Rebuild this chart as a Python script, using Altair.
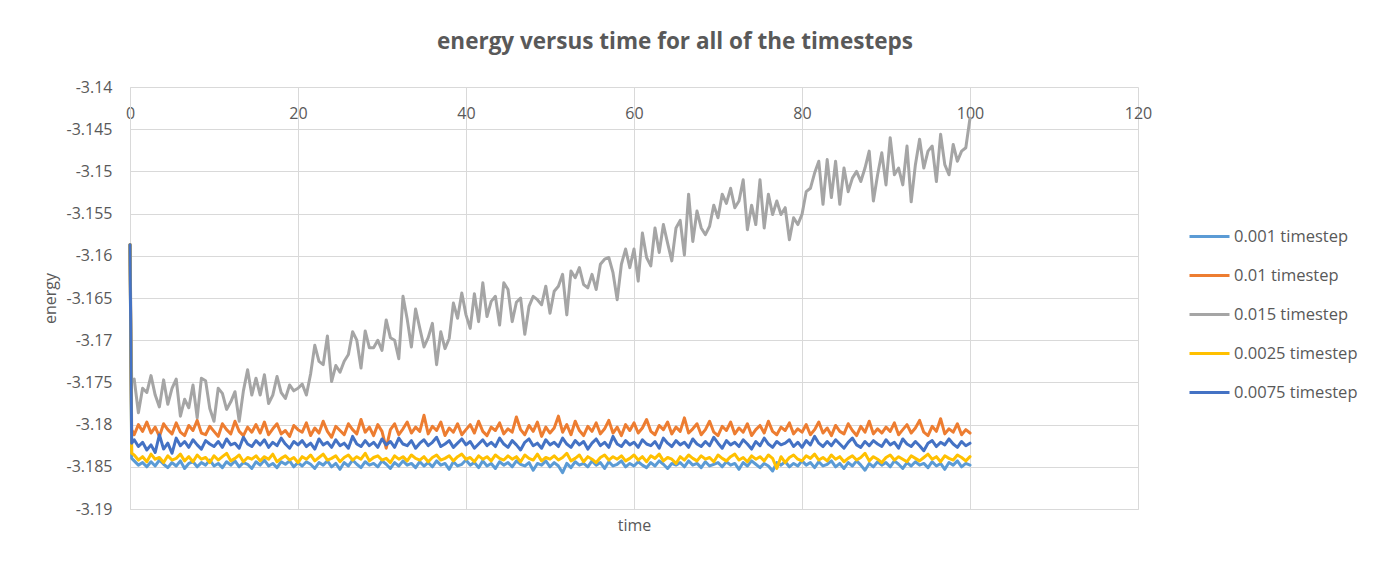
import altair as alt
import pandas as pd

series_names = ["0.001 timestep", "0.01 timestep", "0.015 timestep",
                "0.0025 timestep", "0.0075 timestep"]
series_colors = ["#5B9BD5", "#ED7D31", "#A5A5A5", "#FFC000", "#4472C4"]

x_ticks = [0, 20, 40, 60, 80, 100, 120]
y_ticks = [-3.19, -3.185, -3.18, -3.175, -3.17, -3.165, -3.16,
           -3.155, -3.15, -3.145, -3.14]

# sample times: 0, 0.2, then every 0.5 up to 100
time = [0.0, 0.2] + [0.5 * i for i in range(1, 201)]

e_0001 = [-3.1587, -3.1840,
    -3.1843, -3.1848, -3.1845, -3.1850, -3.1844, -3.1849, -3.1842, -3.1847, -3.1851, -3.1845,
    -3.1849, -3.1843, -3.1852, -3.1846, -3.1844, -3.1850, -3.1845, -3.1848, -3.1842, -3.1849,
    -3.1846, -3.1851, -3.1844, -3.1848, -3.1843, -3.1850, -3.1845, -3.1847, -3.1852, -3.1844,
    -3.1848, -3.1842, -3.1849, -3.1846, -3.1851, -3.1844, -3.1847, -3.1843, -3.1850, -3.1845,
    -3.1849, -3.1844, -3.1847, -3.1852, -3.1845, -3.1848, -3.1843, -3.1850, -3.1846, -3.1853,
    -3.1845, -3.1849, -3.1842, -3.1847, -3.1851, -3.1844, -3.1848, -3.1846, -3.1850, -3.1843,
    -3.1847, -3.1852, -3.1845, -3.1849, -3.1843, -3.1848, -3.1846, -3.1851, -3.1844, -3.1849,
    -3.1845, -3.1850, -3.1843, -3.1848, -3.1846, -3.1853, -3.1844, -3.1849, -3.1847, -3.1842,
    -3.1848, -3.1845, -3.1851, -3.1843, -3.1849, -3.1846, -3.1852, -3.1844, -3.1848, -3.1845,
    -3.1850, -3.1843, -3.1847, -3.1849, -3.1845, -3.1854, -3.1846, -3.1848, -3.1843, -3.1850,
    -3.1845, -3.1849, -3.1857, -3.1846, -3.1851, -3.1844, -3.1848, -3.1846, -3.1850, -3.1843,
    -3.1848, -3.1845, -3.1852, -3.1844, -3.1849, -3.1847, -3.1843, -3.1850, -3.1846, -3.1849,
    -3.1844, -3.1848, -3.1851, -3.1845, -3.1849, -3.1843, -3.1847, -3.1852, -3.1846, -3.1848,
    -3.1845, -3.1850, -3.1843, -3.1848, -3.1846, -3.1851, -3.1844, -3.1849, -3.1847, -3.1845,
    -3.1850, -3.1844, -3.1848, -3.1846, -3.1853, -3.1845, -3.1849, -3.1843, -3.1847, -3.1851,
    -3.1846, -3.1849, -3.1855, -3.1845, -3.1848, -3.1844, -3.1850, -3.1846, -3.1849, -3.1843,
    -3.1848, -3.1845, -3.1851, -3.1844, -3.1849, -3.1847, -3.1843, -3.1850, -3.1846, -3.1852,
    -3.1845, -3.1849, -3.1843, -3.1848, -3.1854, -3.1846, -3.1850, -3.1844, -3.1848, -3.1845,
    -3.1850, -3.1843, -3.1847, -3.1852, -3.1845, -3.1849, -3.1844, -3.1848, -3.1846, -3.1851,
    -3.1844, -3.1849, -3.1846, -3.1853, -3.1845, -3.1848, -3.1843, -3.1850, -3.1846, -3.1848]

e_001 = [-3.1587, -3.1806,
    -3.1812, -3.1800, -3.1808, -3.1797, -3.1810, -3.1803, -3.1814, -3.1799, -3.1806, -3.1811,
    -3.1798, -3.1809, -3.1813, -3.1801, -3.1807, -3.1795, -3.1810, -3.1812, -3.1802, -3.1808,
    -3.1814, -3.1799, -3.1806, -3.1811, -3.1796, -3.1808, -3.1813, -3.1803, -3.1809, -3.1800,
    -3.1810, -3.1797, -3.1812, -3.1805, -3.1799, -3.1811, -3.1807, -3.1814, -3.1801, -3.1806,
    -3.1809, -3.1798, -3.1813, -3.1804, -3.1810, -3.1796, -3.1808, -3.1815, -3.1802, -3.1807,
    -3.1812, -3.1799, -3.1806, -3.1811, -3.1794, -3.1809, -3.1803, -3.1813, -3.1800, -3.1808,
    -3.1828, -3.1806, -3.1799, -3.1812, -3.1805, -3.1797, -3.1810, -3.1803, -3.1808, -3.1789,
    -3.1811, -3.1802, -3.1807, -3.1797, -3.1813, -3.1804, -3.1809, -3.1799, -3.1812, -3.1806,
    -3.1800, -3.1810, -3.1796, -3.1808, -3.1813, -3.1803, -3.1807, -3.1798, -3.1811, -3.1805,
    -3.1809, -3.1791, -3.1806, -3.1812, -3.1801, -3.1808, -3.1797, -3.1814, -3.1803, -3.1810,
    -3.1804, -3.1790, -3.1809, -3.1800, -3.1812, -3.1796, -3.1807, -3.1813, -3.1802, -3.1808,
    -3.1798, -3.1811, -3.1805, -3.1795, -3.1810, -3.1803, -3.1813, -3.1800, -3.1807, -3.1798,
    -3.1810, -3.1804, -3.1794, -3.1808, -3.1812, -3.1801, -3.1806, -3.1797, -3.1811, -3.1803,
    -3.1808, -3.1792, -3.1810, -3.1805, -3.1799, -3.1812, -3.1806, -3.1796, -3.1809, -3.1813,
    -3.1802, -3.1807, -3.1797, -3.1811, -3.1804, -3.1809, -3.1799, -3.1813, -3.1806, -3.1801,
    -3.1810, -3.1796, -3.1808, -3.1812, -3.1803, -3.1807, -3.1798, -3.1811, -3.1805, -3.1809,
    -3.1800, -3.1812, -3.1806, -3.1797, -3.1810, -3.1804, -3.1813, -3.1801, -3.1808, -3.1811,
    -3.1799, -3.1807, -3.1813, -3.1802, -3.1809, -3.1796, -3.1811, -3.1805, -3.1810, -3.1803,
    -3.1808, -3.1798, -3.1812, -3.1806, -3.1800, -3.1810, -3.1804, -3.1795, -3.1809, -3.1813,
    -3.1802, -3.1808, -3.1793, -3.1811, -3.1805, -3.1809, -3.1799, -3.1812, -3.1806, -3.1810]

e_0015 = [-3.1587, -3.1750,
    -3.1746, -3.1786, -3.1757, -3.1762, -3.1742, -3.1765, -3.1779, -3.1747, -3.1776, -3.1757,
    -3.1746, -3.1790, -3.1770, -3.1780, -3.1753, -3.1792, -3.1745, -3.1748, -3.1781, -3.1796,
    -3.1757, -3.1763, -3.1782, -3.1773, -3.1761, -3.1796, -3.1760, -3.1735, -3.1765, -3.1745,
    -3.1765, -3.1741, -3.1775, -3.1765, -3.1743, -3.1762, -3.1769, -3.1753, -3.1760, -3.1757,
    -3.1752, -3.1765, -3.1740, -3.1706, -3.1725, -3.1729, -3.1695, -3.1749, -3.1730, -3.1738,
    -3.1725, -3.1717, -3.1690, -3.1700, -3.1733, -3.1689, -3.1709, -3.1709, -3.1700, -3.1712,
    -3.1676, -3.1697, -3.1700, -3.1722, -3.1648, -3.1675, -3.1708, -3.1663, -3.1686, -3.1708,
    -3.1697, -3.1680, -3.1729, -3.1690, -3.1710, -3.1698, -3.1656, -3.1674, -3.1644, -3.1670,
    -3.1686, -3.1645, -3.1678, -3.1632, -3.1672, -3.1654, -3.1648, -3.1682, -3.1632, -3.1640,
    -3.1678, -3.1655, -3.1650, -3.1693, -3.1660, -3.1648, -3.1652, -3.1658, -3.1636, -3.1668,
    -3.1642, -3.1636, -3.1622, -3.1670, -3.1618, -3.1626, -3.1614, -3.1634, -3.1638, -3.1622,
    -3.1640, -3.1610, -3.1604, -3.1602, -3.1620, -3.1652, -3.1610, -3.1592, -3.1614, -3.1592,
    -3.1630, -3.1573, -3.1602, -3.1612, -3.1567, -3.1596, -3.1563, -3.1585, -3.1606, -3.1567,
    -3.1558, -3.1599, -3.1527, -3.1583, -3.1547, -3.1567, -3.1575, -3.1565, -3.1540, -3.1555,
    -3.1527, -3.1538, -3.1520, -3.1543, -3.1535, -3.1510, -3.1569, -3.1540, -3.1563, -3.1510,
    -3.1567, -3.1527, -3.1551, -3.1535, -3.1551, -3.1543, -3.1581, -3.1555, -3.1563, -3.1551,
    -3.1524, -3.1520, -3.1502, -3.1488, -3.1539, -3.1486, -3.1531, -3.1488, -3.1539, -3.1496,
    -3.1524, -3.1508, -3.1500, -3.1512, -3.1496, -3.1476, -3.1535, -3.1504, -3.1478, -3.1516,
    -3.1460, -3.1504, -3.1496, -3.1516, -3.1470, -3.1536, -3.1492, -3.1462, -3.1496, -3.1476,
    -3.1470, -3.1512, -3.1456, -3.1492, -3.1504, -3.1468, -3.1488, -3.1476, -3.1472, -3.1437]

e_00025 = [-3.1587, -3.1834,
    -3.1836, -3.1842, -3.1838, -3.1844, -3.1835, -3.1841, -3.1839, -3.1845, -3.1837, -3.1842,
    -3.1840, -3.1835, -3.1843, -3.1838, -3.1844, -3.1836, -3.1841, -3.1839, -3.1845, -3.1837,
    -3.1842, -3.1838, -3.1834, -3.1843, -3.1840, -3.1836, -3.1844, -3.1839, -3.1841, -3.1837,
    -3.1843, -3.1838, -3.1841, -3.1835, -3.1844, -3.1840, -3.1837, -3.1842, -3.1839, -3.1845,
    -3.1838, -3.1841, -3.1836, -3.1843, -3.1839, -3.1835, -3.1842, -3.1840, -3.1837, -3.1844,
    -3.1839, -3.1836, -3.1842, -3.1838, -3.1841, -3.1834, -3.1843, -3.1839, -3.1837, -3.1842,
    -3.1840, -3.1845, -3.1837, -3.1841, -3.1838, -3.1843, -3.1836, -3.1840, -3.1842, -3.1838,
    -3.1844, -3.1839, -3.1836, -3.1842, -3.1840, -3.1837, -3.1843, -3.1838, -3.1835, -3.1841,
    -3.1839, -3.1844, -3.1837, -3.1841, -3.1838, -3.1843, -3.1836, -3.1840, -3.1842, -3.1837,
    -3.1841, -3.1838, -3.1844, -3.1836, -3.1840, -3.1842, -3.1835, -3.1843, -3.1839, -3.1841,
    -3.1837, -3.1842, -3.1839, -3.1834, -3.1843, -3.1840, -3.1836, -3.1844, -3.1838, -3.1841,
    -3.1845, -3.1839, -3.1836, -3.1842, -3.1838, -3.1841, -3.1837, -3.1843, -3.1840, -3.1836,
    -3.1842, -3.1838, -3.1844, -3.1837, -3.1840, -3.1835, -3.1843, -3.1839, -3.1841, -3.1846,
    -3.1838, -3.1842, -3.1836, -3.1840, -3.1843, -3.1837, -3.1841, -3.1839, -3.1844, -3.1836,
    -3.1840, -3.1843, -3.1838, -3.1835, -3.1842, -3.1839, -3.1844, -3.1837, -3.1841, -3.1838,
    -3.1843, -3.1836, -3.1840, -3.1852, -3.1838, -3.1845, -3.1839, -3.1836, -3.1841, -3.1843,
    -3.1837, -3.1840, -3.1835, -3.1842, -3.1839, -3.1843, -3.1836, -3.1841, -3.1838, -3.1844,
    -3.1840, -3.1837, -3.1842, -3.1839, -3.1834, -3.1843, -3.1838, -3.1841, -3.1845, -3.1839,
    -3.1836, -3.1842, -3.1838, -3.1841, -3.1844, -3.1837, -3.1840, -3.1843, -3.1839, -3.1835,
    -3.1841, -3.1838, -3.1844, -3.1837, -3.1840, -3.1842, -3.1836, -3.1839, -3.1843, -3.1838]

e_00075 = [-3.1587, -3.1822,
    -3.1818, -3.1826, -3.1821, -3.1830, -3.1824, -3.1833, -3.1812, -3.1829, -3.1822, -3.1834,
    -3.1816, -3.1825, -3.1820, -3.1827, -3.1818, -3.1824, -3.1829, -3.1819, -3.1823, -3.1826,
    -3.1820, -3.1827, -3.1817, -3.1824, -3.1822, -3.1828, -3.1815, -3.1823, -3.1826, -3.1819,
    -3.1824, -3.1818, -3.1827, -3.1821, -3.1825, -3.1816, -3.1823, -3.1828, -3.1820, -3.1824,
    -3.1819, -3.1826, -3.1822, -3.1829, -3.1817, -3.1824, -3.1821, -3.1827, -3.1818, -3.1825,
    -3.1822, -3.1828, -3.1814, -3.1823, -3.1826, -3.1819, -3.1825, -3.1821, -3.1827, -3.1817,
    -3.1824, -3.1820, -3.1827, -3.1816, -3.1823, -3.1825, -3.1819, -3.1828, -3.1822, -3.1818,
    -3.1825, -3.1821, -3.1815, -3.1826, -3.1823, -3.1819, -3.1827, -3.1822, -3.1817, -3.1824,
    -3.1820, -3.1828, -3.1823, -3.1818, -3.1825, -3.1821, -3.1826, -3.1816, -3.1823, -3.1827,
    -3.1819, -3.1824, -3.1830, -3.1821, -3.1817, -3.1825, -3.1822, -3.1828, -3.1818, -3.1824,
    -3.1821, -3.1826, -3.1816, -3.1823, -3.1827, -3.1819, -3.1824, -3.1820, -3.1829, -3.1822,
    -3.1817, -3.1825, -3.1821, -3.1827, -3.1814, -3.1823, -3.1826, -3.1819, -3.1824, -3.1821,
    -3.1827, -3.1818, -3.1823, -3.1825, -3.1820, -3.1828, -3.1816, -3.1822, -3.1826, -3.1819,
    -3.1824, -3.1821, -3.1827, -3.1817, -3.1823, -3.1826, -3.1820, -3.1825, -3.1815, -3.1822,
    -3.1828, -3.1819, -3.1824, -3.1821, -3.1826, -3.1818, -3.1823, -3.1829, -3.1820, -3.1825,
    -3.1816, -3.1823, -3.1827, -3.1820, -3.1824, -3.1822, -3.1818, -3.1826, -3.1821, -3.1827,
    -3.1819, -3.1824, -3.1814, -3.1822, -3.1826, -3.1820, -3.1825, -3.1818, -3.1823, -3.1828,
    -3.1821, -3.1816, -3.1824, -3.1827, -3.1820, -3.1825, -3.1819, -3.1823, -3.1826, -3.1818,
    -3.1824, -3.1821, -3.1828, -3.1817, -3.1823, -3.1826, -3.1820, -3.1825, -3.1831, -3.1822,
    -3.1819, -3.1826, -3.1821, -3.1824, -3.1817, -3.1823, -3.1827, -3.1820, -3.1825, -3.1822]

series_values = [e_0001, e_001, e_0015, e_00025, e_00075]

frames = []
for name, vals in zip(series_names, series_values):
    assert len(vals) == len(time), (name, len(vals), len(time))
    frames.append(pd.DataFrame({"time": time, "energy": vals, "series": name}))

FONT = "Open Sans"
TEXT = "#595959"
GRID = "#D9D9D9"

color = alt.Color(
    "series:N",
    scale=alt.Scale(domain=series_names, range=series_colors),
    legend=alt.Legend(
        title=None, orient="none", legendX=1058, legendY=128,
        symbolType="stroke", symbolSize=1600, symbolStrokeWidth=3,
        labelFont=FONT, labelFontSize=16.5, labelColor=TEXT, labelOffset=3,
        rowPadding=9, padding=0, labelLimit=300,
    ),
)

x = alt.X(
    "time:Q",
    scale=alt.Scale(domain=[0, 120], nice=False),
    axis=alt.Axis(
        values=x_ticks, title="time", orient="bottom",
        labelPadding=-391, labelBaseline="alphabetic",
        ticks=False, tickSize=0, domain=True, domainColor=GRID,
        grid=True, gridColor=GRID, titlePadding=8, labelFlush=False,
    ),
)

y = alt.Y(
    "energy:Q",
    scale=alt.Scale(domain=[-3.19, -3.14], nice=False, zero=False),
    axis=alt.Axis(
        values=y_ticks, title="energy", labelExpr="toString(datum.value)",
        labelPadding=18, ticks=False, tickSize=0, domain=True,
        domainColor=GRID, grid=True, gridColor=GRID, titlePadding=8,
    ),
)

layers = [
    alt.Chart(f).mark_line(strokeWidth=3, strokeJoin="round", strokeCap="round")
    .encode(x=x, y=y, color=color, order="time:Q")
    for f in frames
]

chart = (
    alt.layer(*layers)
    .properties(
        width=1008, height=422,
        padding={"left": 34, "top": 22, "right": 10, "bottom": 10},
        title=alt.TitleParams(
            text="energy versus time for all of the timesteps",
            font=FONT, fontSize=22.5, fontWeight="bold", color=TEXT,
            anchor="middle", offset=26, dx=41,
        ),
    )
    .configure(background="white")
    .configure_view(stroke=None)
    .configure_axis(
        labelFont=FONT, labelFontSize=16, labelColor=TEXT,
        titleFont=FONT, titleFontSize=16, titleColor=TEXT,
        titleFontWeight="normal",
    )
)

chart.save("out.html", embed_options={"renderer": "svg", "actions": False})
